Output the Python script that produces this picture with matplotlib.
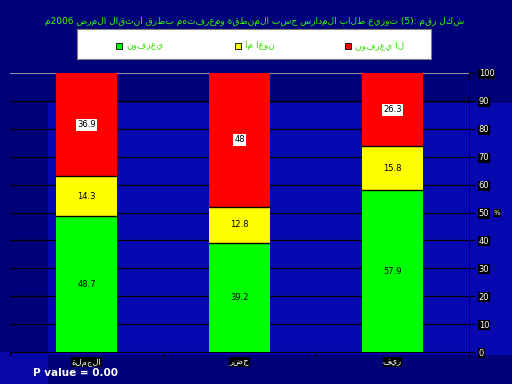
import re
import matplotlib.pyplot as plt
from matplotlib.patches import Rectangle

categories = ["الجملة", "حضر", "ريف"]
know = [48.7, 39.2, 57.9]
somewhat = [14.3, 12.8, 15.8]
dont_know = [36.9, 48, 26.3]
legend_labels = ["يعرفون", "نوعا ما", "لا يعرفون"]
title = "شكل رقم (5): توزيع طلاب المدارس حسب المنطقة ومعرفتهم بطرق انتقال المرض 2006م"
yticks = list(range(0, 101, 10))

arabic = re.compile("[\u0600-\u06ff]")


def rtl(s):
  # matplotlib has no bidi: flip word order and the letters of arabic words
  out = []
  for wd in s.split(" ")[::-1]:
    if arabic.search(wd) and not re.search(r"\d", wd):
      wd = wd[::-1]
    elif arabic.search(wd):
      # digits followed by a letter, e.g. 2006م -> م2006
      m = re.match(r"(\d+)(\D+)$", wd)
      if m:
        wd = m.group(2)[::-1] + m.group(1)
    out.append(wd)
  return " ".join(out)


fig = plt.figure(figsize=(5.12, 3.84), dpi=100)
fig.patch.set_facecolor("#000078")
# lighter panel of the slide background
fig.patches.append(Rectangle((48/512, 1 - 355/384), 464/512, 252/384, transform=fig.transFigure,
                             facecolor="#0808b0", edgecolor="none", zorder=-10))
fig.patches.append(Rectangle((0.0, 0.0), 48/512, 32/384, transform=fig.transFigure,
                             facecolor="#0808a8", edgecolor="none", zorder=-10))

ax = fig.add_axes([10/512, 1 - 352/384, 459/512, 279/384])
ax.set_facecolor("none")
x = list(range(len(categories)))
w = 0.4

ax.bar(x, know, w, color="#00ff00", edgecolor="none", zorder=3)
ax.bar(x, somewhat, w, bottom=know, color="#ffff00", edgecolor="none", zorder=3)
b3 = [k + s for k, s in zip(know, somewhat)]
ax.bar(x, dont_know, w, bottom=b3, color="#ff0000", edgecolor="none", zorder=3)
for i in x:
  ax.plot([i - w/2, i + w/2], [know[i]] * 2, color="black", lw=1, zorder=4)
  ax.plot([i - w/2, i + w/2], [b3[i]] * 2, color="black", lw=1, zorder=4)
  ax.text(i, know[i] / 2, str(know[i]), ha="center", va="center", fontsize=6, zorder=5)
  ax.text(i, know[i] + somewhat[i] / 2, str(somewhat[i]), ha="center", va="center",
          fontsize=6, zorder=5)
  ax.text(i, b3[i] + dont_know[i] / 2, str(dont_know[i]), ha="center", va="center",
          fontsize=6, zorder=5,
          bbox=dict(facecolor="white", edgecolor="none", pad=1.2))

ax.set_xlim(-0.5, 2.5)
ax.set_ylim(0, 100)
for yv in yticks[1:-1]:
  ax.axhline(yv, color="black", lw=0.9, zorder=1)
ax.axhline(100, color="#9090a0", lw=0.8, zorder=1)

ax.yaxis.tick_right()
ax.set_yticks(yticks)
ax.set_yticklabels([str(v) for v in yticks], color="white", fontsize=6)
for t in ax.get_yticklabels():
  t.set_bbox(dict(facecolor="black", edgecolor="none", pad=0.4))
ax.tick_params(axis="y", direction="out", length=4, color="black", pad=3)
ax.set_xticks([-0.5, 0.5, 1.5, 2.5], minor=False)
ax.set_xticklabels([])
ax.tick_params(axis="x", direction="out", length=3, color="black")
for i, c in enumerate(categories):
  ax.text(i, -2, rtl(c), ha="center", va="top", color="white", fontsize=6,
          bbox=dict(facecolor="black", edgecolor="none", pad=0.3))
for s in ["top", "left"]:
  ax.spines[s].set_visible(False)
ax.spines["right"].set_color("black")
ax.spines["bottom"].set_color("black")

fig.text(497/512, 1 - 213/384, "%", color="white", fontsize=5, ha="center", va="center",
         bbox=dict(facecolor="black", edgecolor="none", pad=0.5))

fig.text(255/512, 1 - 21/384, rtl(title), color="#33ff00", fontsize=6.5,
         ha="center", va="center")

# legend box
lax = fig.add_axes([77/512, 1 - 59/384, 354/512, 30/384])
lax.set_xlim(0, 354)
lax.set_ylim(0, 30)
lax.set_xticks([])
lax.set_yticks([])
lax.set_facecolor("white")
for s in lax.spines.values():
  s.set_color("#808080")
items = [(39, "#00ff00", legend_labels[0]), (158, "#ffff00", legend_labels[1]),
         (268, "#ff0000", legend_labels[2])]
for xp, col, lab in items:
  lax.add_patch(Rectangle((xp, 10), 6, 6, facecolor=col, edgecolor="black", lw=0.6))
  lax.text(xp + 10, 13, rtl(lab), color="#33dd00", fontsize=6.5, va="center")

fig.text(33/512, 1 - 373/384, "P value = 0.00", color="white", fontsize=7.5,
         fontweight="bold", va="center")

fig.savefig("out.png", dpi=100, facecolor=fig.get_facecolor())
